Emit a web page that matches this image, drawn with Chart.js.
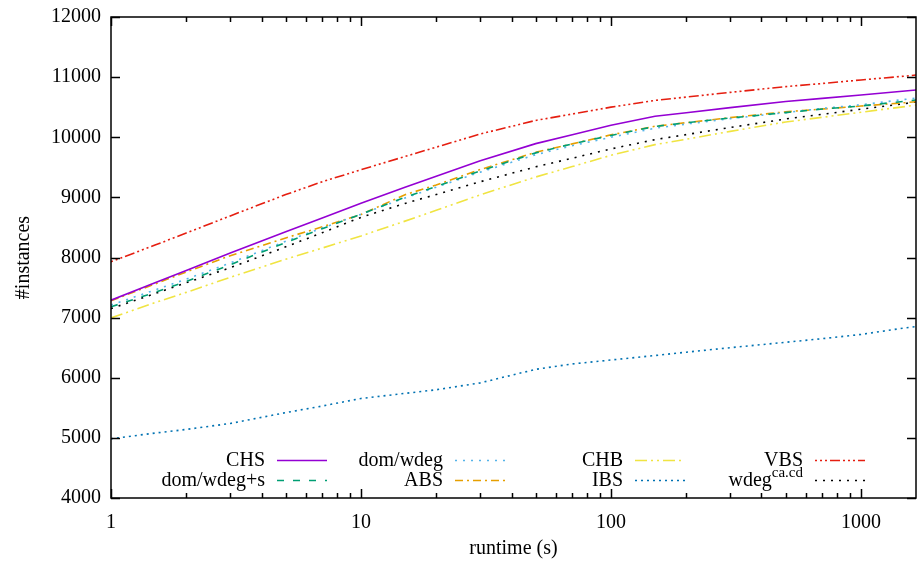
<html lang="en">
<head>
<meta charset="utf-8">
<style>
  html, body { margin: 0; padding: 0; background: #fff; }
</style>
</head>
<body>
<div>
    <canvas id="myChart" width="917" height="565"></canvas>
</div>

<script src="https://cdn.jsdelivr.net/npm/chart.js"></script>

<script>
    // runtime in seconds (log axis)
    const runtime = [1, 1.5, 2, 3, 5, 7, 10, 15, 20, 30, 50, 70, 100, 150, 200, 300, 500, 700, 1000, 1500, 1660];

    // solved instances per solver
    const chs     = [7290, 7580, 7785, 8076, 8429, 8656, 8903, 9170, 9353, 9611, 9894, 10042, 10200, 10349, 10408, 10493, 10594, 10646, 10703, 10768, 10786];
    const domWdegS= [7180, 7420, 7600, 7880, 8250, 8480, 8720, 9000, 9180, 9440, 9740, 9890, 10030, 10180, 10240, 10320, 10410, 10470, 10520, 10600, 10620];
    const domWdeg = [7210, 7460, 7640, 7910, 8270, 8490, 8720, 8990, 9170, 9420, 9710, 9860, 10000, 10150, 10220, 10310, 10410, 10480, 10540, 10630, 10650];
    const abs     = [7280, 7560, 7760, 8030, 8325, 8510, 8715, 9044, 9207, 9463, 9750, 9890, 10040, 10183, 10242, 10326, 10423, 10469, 10519, 10575, 10590];
    const chb     = [6995, 7250, 7420, 7670, 7971, 8157, 8358, 8605, 8786, 9043, 9339, 9512, 9700, 9877, 9967, 10098, 10254, 10332, 10416, 10510, 10536];
    const ibs     = [4985, 5080, 5140, 5240, 5420, 5530, 5655, 5740, 5800, 5915, 6140, 6230, 6295, 6370, 6425, 6500, 6590, 6650, 6720, 6830, 6850];
    const vbs     = [7930, 8206, 8407, 8692, 9047, 9260, 9460, 9680, 9835, 10054, 10280, 10386, 10501, 10613, 10668, 10747, 10842, 10894, 10953, 11017, 11035];
    const wdegCa  = [7150, 7400, 7580, 7830, 8177, 8413, 8668, 8899, 9048, 9260, 9508, 9651, 9806, 9961, 10044, 10162, 10304, 10382, 10466, 10560, 10586];

    const yTicks = [4000, 5000, 6000, 7000, 8000, 9000, 10000, 11000, 12000];
    const xMajor = [1, 10, 100, 1000];

    const FONT = "'Liberation Serif', 'Times New Roman', serif";

    function pts(vals) {
        return vals.map((v, i) => ({x: runtime[i], y: v}));
    }

    const series = [
        {label: 'CHS',        data: chs,      color: '#9400d3', dash: []},
        {label: 'dom/wdeg+s', data: domWdegS, color: '#009e73', dash: [7, 9]},
        {label: 'dom/wdeg',   data: domWdeg,  color: '#56b4e9', dash: [2, 6]},
        {label: 'ABS',        data: abs,      color: '#e69f00', dash: [8, 4, 2, 4]},
        {label: 'CHB',        data: chb,      color: '#f0e442', dash: [12, 4, 2, 4, 2, 4]},
        {label: 'IBS',        data: ibs,      color: '#0072b2', dash: [2, 4]},
        {label: 'VBS',        data: vbs,      color: '#e51e10', dash: [2, 3, 2, 3, 2, 3, 10, 3]},
        {label: 'wdeg',       data: wdegCa,   color: '#000000', dash: [2, 6], sup: 'ca.cd'}
    ];

    // gnuplot like frame, inward ticks and two row key
    const gnuplotLook = {
        id: 'gnuplotLook',
        afterDraw(chart) {
            const ctx = chart.ctx;
            const a = chart.chartArea;
            const xs = chart.scales.x, ys = chart.scales.y;
            ctx.save();
            ctx.strokeStyle = '#000';
            ctx.lineWidth = 1.5;
            ctx.setLineDash([]);
            ctx.strokeRect(a.left, a.top, a.right - a.left, a.bottom - a.top);

            ctx.beginPath();
            yTicks.forEach(v => {
                const py = Math.round(ys.getPixelForValue(v)) + 0.5;
                ctx.moveTo(a.left, py); ctx.lineTo(a.left + 9, py);
                ctx.moveTo(a.right, py); ctx.lineTo(a.right - 9, py);
            });
            xMajor.forEach(d => {
                for (let m = 1; m < 10; m++) {
                    const v = d * m;
                    if (v > xs.max) break;
                    const px = Math.round(xs.getPixelForValue(v)) + 0.5;
                    const len = m === 1 ? 9 : 5;
                    ctx.moveTo(px, a.bottom); ctx.lineTo(px, a.bottom - len);
                    ctx.moveTo(px, a.top); ctx.lineTo(px, a.top + len);
                }
            });
            ctx.stroke();

            // key
            const colRight = [265, 443, 623, 803];
            const rowY = [461, 481];
            ctx.font = '20px ' + FONT;
            ctx.fillStyle = '#000';
            ctx.textBaseline = 'middle';
            series.forEach((s, i) => {
                const col = Math.floor(i / 2), row = i % 2;
                const right = colRight[col], y = rowY[row];
                ctx.textAlign = 'right';
                if (s.sup) {
                    ctx.font = '15px ' + FONT;
                    ctx.fillText(s.sup, right, y - 8);
                    const w = ctx.measureText(s.sup).width;
                    ctx.font = '20px ' + FONT;
                    ctx.fillText(s.label, right - w, y);
                } else {
                    ctx.fillText(s.label, right, y);
                }
                ctx.beginPath();
                ctx.strokeStyle = s.color;
                ctx.lineWidth = 1.6;
                ctx.setLineDash(s.dash);
                ctx.moveTo(right + 12, y - 0.5);
                ctx.lineTo(right + 62, y - 0.5);
                ctx.stroke();
            });
            ctx.restore();
        }
    };

    const ctx = document.getElementById('myChart');

    new Chart(ctx, {
        type: 'line',
        data: {
            datasets: series.map(s => ({
                label: s.sup ? s.label + s.sup : s.label,
                data: pts(s.data),
                borderColor: s.color,
                backgroundColor: s.color,
                borderDash: s.dash,
                borderWidth: 1.6,
                pointRadius: 0,
                tension: 0,
                fill: false
            }))
        },
        plugins: [gnuplotLook],
        options: {
            responsive: false,
            animation: false,
            devicePixelRatio: 1,
            layout: {padding: {left: 0, right: 1, top: 17, bottom: 0}},
            plugins: {
                legend: {display: false},
                tooltip: {enabled: false}
            },
            scales: {
                x: {
                    type: 'logarithmic',
                    min: 1,
                    max: 1660,
                    grid: {display: false, drawTicks: false},
                    border: {display: false},
                    afterFit: s => { s.height = 67; s.paddingLeft = 0; s.paddingRight = 0; },
                    ticks: {
                        autoSkip: false,
                        maxRotation: 0,
                        padding: 13,
                        color: '#000',
                        font: {family: FONT, size: 20},
                        callback: v => xMajor.includes(v) ? String(v) : ''
                    },
                    title: {
                        display: true,
                        text: 'runtime (s)',
                        color: '#000',
                        font: {family: FONT, size: 20},
                        padding: {top: 0, bottom: 4}
                    }
                },
                y: {
                    min: 4000,
                    max: 12000,
                    grid: {display: false, drawTicks: false},
                    border: {display: false},
                    afterFit: s => { s.width = 111; s.paddingTop = 0; s.paddingBottom = 0; },
                    afterBuildTicks: s => { s.ticks = yTicks.map(v => ({value: v})); },
                    ticks: {
                        padding: 10,
                        color: '#000',
                        font: {family: FONT, size: 20},
                        callback: v => String(v)
                    },
                    title: {
                        display: true,
                        text: '#instances',
                        color: '#000',
                        font: {family: FONT, size: 20},
                        padding: {top: 12, bottom: 0}
                    }
                }
            }
        }
    });
</script>
</body>
</html>
